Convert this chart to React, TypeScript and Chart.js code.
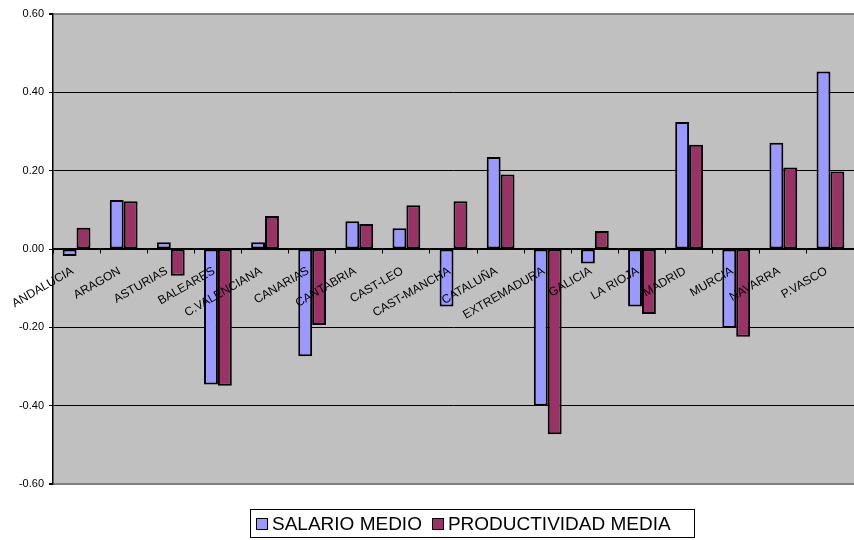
import React, { useEffect, useRef } from "react";
import { Chart, registerables } from "chart.js";

Chart.register(...registerables);

const regions = [
  "ANDALUCIA", "ARAGON", "ASTURIAS", "BALEARES", "C.VALENCIANA", "CANARIAS",
  "CANTABRIA", "CAST-LEO", "CAST-MANCHA", "CATALUÑA", "EXTREMADURA", "GALICIA",
  "LA RIOJA", "MADRID", "MURCIA", "NAVARRA", "P.VASCO",
];

const salarioMedio = [
  -0.018, 0.125, 0.017, -0.346, 0.017, -0.274, 0.071, 0.053, -0.147,
  0.235, -0.4, -0.037, -0.147, 0.324, -0.202, 0.271, 0.453,
];

const productividadMedia = [
  0.054, 0.122, -0.068, -0.349, 0.084, -0.194, 0.064, 0.112, 0.122,
  0.19, -0.473, 0.046, -0.166, 0.266, -0.224, 0.208, 0.198,
];

const seriesNames = ["SALARIO MEDIO", "PRODUCTIVIDAD MEDIA"];
const seriesColors = ["#9999FF", "#993366"];

const FONT = "'Liberation Sans', Arial, sans-serif";

// Grey plot-area fill behind everything
const plotBackground = {
  id: "plotBackground",
  beforeDraw(chart: any) {
    const { ctx, chartArea } = chart;
    ctx.save();
    ctx.fillStyle = "#C0C0C0";
    ctx.fillRect(chartArea.left, chartArea.top, chartArea.right - chartArea.left, chartArea.bottom - chartArea.top);
    ctx.restore();
  },
};

const isEdge = (c: any) => Math.abs(Math.abs(c.tick?.value ?? 0) - 0.6) < 1e-6;

export default function App() {
  const canvasRef = useRef<HTMLCanvasElement | null>(null);

  useEffect(() => {
    if (!canvasRef.current) return;
    const chart = new Chart(canvasRef.current, {
      type: "bar",
      data: {
        labels: regions,
        datasets: [
          {
            label: seriesNames[0],
            data: salarioMedio,
            backgroundColor: seriesColors[0],
            borderColor: "#000000",
            borderWidth: 2,
            borderSkipped: false,
          },
          {
            label: seriesNames[1],
            data: productividadMedia,
            backgroundColor: seriesColors[1],
            borderColor: "#000000",
            borderWidth: 2,
            borderSkipped: false,
          },
        ],
      },
      options: {
        responsive: false,
        animation: false,
        layout: { padding: { top: 14, bottom: 56, left: 0, right: 0 } },
        datasets: { bar: { categoryPercentage: 0.59, barPercentage: 1 } },
        plugins: {
          legend: { display: false },
          tooltip: { enabled: false },
        },
        scales: {
          x: {
            // category axis crosses the value axis at zero; drawn above the bars
            position: { y: 0 } as any,
            grid: {
              z: 1,
              drawOnChartArea: false,
              drawTicks: true,
              tickLength: 4,
              tickColor: "#000000",
            },
            border: { z: 1, color: "#000000", width: 1.5 },
            ticks: {
              z: 1,
              autoSkip: false,
              minRotation: 30,
              maxRotation: 30,
              padding: 11,
              labelOffset: -4,
              color: "#000000",
              font: { family: FONT, size: 12 },
            },
          },
          y: {
            min: -0.6,
            max: 0.6,
            afterFit(scale: any) {
              scale.width = 53;
            },
            grid: {
              color: (c: any) => (isEdge(c) ? "#808080" : "#000000"),
              lineWidth: (c: any) => (isEdge(c) ? 2 : 1),
              tickLength: 4,
              tickColor: "#000000",
            },
            border: { color: "#000000", width: 1.5 },
            ticks: {
              stepSize: 0.2,
              padding: 5,
              color: "#000000",
              font: { family: FONT, size: 11 },
              callback: (v: any) => Number(v).toFixed(2),
            },
          },
        },
      },
      plugins: [plotBackground],
    });
    return () => chart.destroy();
  }, []);

  return (
    <div style={{ position: "fixed", left: 0, top: 0, width: 854, height: 540, background: "#fff" }}>
      <canvas ref={canvasRef} width={854} height={540} style={{ width: 854, height: 540, display: "block" }} />
      <div
        style={{
          position: "absolute",
          left: 250,
          top: 509,
          width: 445,
          height: 29,
          boxSizing: "border-box",
          border: "1px solid #000",
          display: "flex",
          alignItems: "center",
          paddingLeft: 5,
          fontFamily: FONT,
          fontSize: 19,
          color: "#000",
          whiteSpace: "nowrap",
        }}
      >
        {seriesNames.map((name, i) => (
          <span key={name} style={{ display: "flex", alignItems: "center", marginRight: i === 0 ? 10 : 0 }}>
            <span
              style={{
                display: "inline-block",
                width: 12,
                height: 12,
                boxSizing: "border-box",
                border: "1.5px solid #000",
                background: seriesColors[i],
                marginRight: 4,
              }}
            />
            {name}
          </span>
        ))}
      </div>
    </div>
  );
}
